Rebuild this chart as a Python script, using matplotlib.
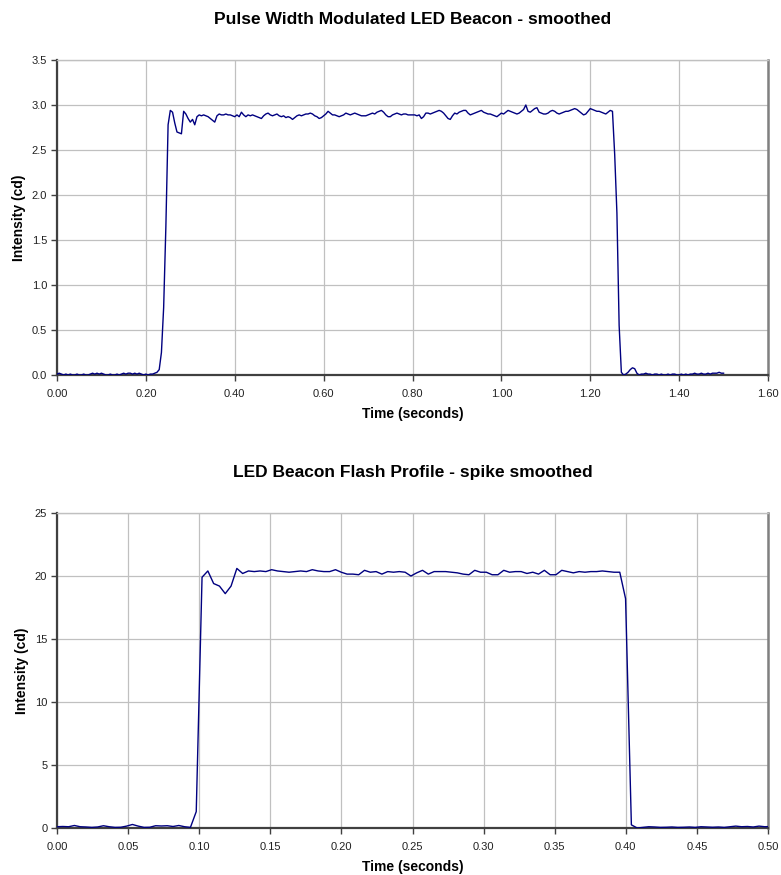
import numpy as np
from matplotlib import pyplot as plt
from matplotlib.ticker import FormatStrFormatter, MultipleLocator

plt.rcParams['font.family'] = ['Liberation Sans', 'DejaVu Sans']

##############################################################################################
##                          PWM beacon, sampled every 5 ms (cd)
##############################################################################################
pwm_dt = 0.005
pwm_cd = [
    0.01, 0.02, 0.01, 0.00, 0.01, 0.00, 0.01, 0.00, 0.00, 0.01,
    0.00, 0.00, 0.01, 0.00, 0.00, 0.01, 0.02, 0.01, 0.02, 0.01,
    0.02, 0.01, 0.00, 0.00, 0.01, 0.00, 0.00, 0.01, 0.00, 0.01,
    0.02, 0.01, 0.02, 0.02, 0.01, 0.02, 0.01, 0.02, 0.01, 0.00,
    0.01, 0.00, 0.01, 0.01, 0.02, 0.03, 0.06, 0.25, 0.75, 1.65,
    2.78, 2.94, 2.92, 2.80, 2.70, 2.69, 2.68, 2.93, 2.90, 2.85,
    2.81, 2.84, 2.78, 2.87, 2.89, 2.88, 2.89, 2.88, 2.87, 2.85,
    2.83, 2.81, 2.88, 2.90, 2.89, 2.89, 2.90, 2.89, 2.89, 2.88,
    2.87, 2.89, 2.87, 2.92, 2.89, 2.87, 2.89, 2.88, 2.89, 2.88,
    2.87, 2.86, 2.85, 2.88, 2.90, 2.91, 2.89, 2.88, 2.89, 2.90,
    2.88, 2.87, 2.88, 2.86, 2.87, 2.86, 2.84, 2.86, 2.88, 2.89,
    2.88, 2.89, 2.90, 2.90, 2.91, 2.90, 2.88, 2.87, 2.85, 2.86,
    2.88, 2.90, 2.93, 2.91, 2.89, 2.89, 2.88, 2.87, 2.88, 2.89,
    2.91, 2.90, 2.89, 2.90, 2.91, 2.90, 2.89, 2.88, 2.88, 2.88,
    2.89, 2.90, 2.91, 2.90, 2.92, 2.93, 2.94, 2.92, 2.89, 2.87,
    2.87, 2.89, 2.90, 2.91, 2.90, 2.89, 2.90, 2.90, 2.89, 2.89,
    2.89, 2.89, 2.88, 2.89, 2.85, 2.87, 2.91, 2.91, 2.90, 2.91,
    2.92, 2.93, 2.94, 2.93, 2.91, 2.88, 2.85, 2.84, 2.88, 2.91,
    2.90, 2.92, 2.93, 2.94, 2.94, 2.91, 2.89, 2.90, 2.91, 2.92,
    2.93, 2.94, 2.92, 2.91, 2.90, 2.90, 2.89, 2.88, 2.87, 2.89,
    2.91, 2.90, 2.92, 2.94, 2.93, 2.92, 2.91, 2.90, 2.91, 2.93,
    2.95, 3.00, 2.93, 2.92, 2.94, 2.96, 2.97, 2.92, 2.91, 2.90,
    2.90, 2.91, 2.93, 2.94, 2.93, 2.91, 2.90, 2.91, 2.92, 2.93,
    2.93, 2.94, 2.95, 2.96, 2.95, 2.93, 2.91, 2.89, 2.90, 2.93,
    2.96, 2.95, 2.94, 2.93, 2.93, 2.92, 2.91, 2.90, 2.92, 2.94,
    2.93, 2.45, 1.80, 0.55, 0.03, 0.00, 0.01, 0.03, 0.06, 0.08,
    0.07, 0.02, 0.00, 0.01, 0.01, 0.02, 0.01, 0.01, 0.00, 0.01,
    0.01, 0.00, 0.01, 0.00, 0.00, 0.01, 0.00, 0.01, 0.01, 0.00,
    0.00, 0.01, 0.00, 0.01, 0.00, 0.01, 0.01, 0.02, 0.01, 0.01,
    0.02, 0.01, 0.01, 0.02, 0.01, 0.02, 0.02, 0.02, 0.03, 0.02,
    0.02,
]

##############################################################################################
##                          flash profile, sampled every 4.08 ms (cd)
##############################################################################################
flash_dt = 0.00408
flash_cd = [
    0.10, 0.12, 0.10, 0.20, 0.10, 0.08, 0.05, 0.08, 0.18, 0.10,
    0.05, 0.06, 0.15, 0.28, 0.15, 0.05, 0.06, 0.18, 0.16, 0.18,
    0.12, 0.20, 0.10, 0.05, 1.30, 19.90, 20.40, 19.40, 19.20, 18.60,
    19.20, 20.60, 20.20, 20.40, 20.35, 20.40, 20.35, 20.50, 20.40, 20.35,
    20.30, 20.35, 20.40, 20.35, 20.50, 20.40, 20.35, 20.35, 20.50, 20.30,
    20.15, 20.15, 20.10, 20.45, 20.30, 20.35, 20.15, 20.35, 20.30, 20.35,
    20.30, 20.00, 20.25, 20.45, 20.15, 20.35, 20.35, 20.35, 20.30, 20.25,
    20.15, 20.10, 20.45, 20.30, 20.30, 20.10, 20.10, 20.45, 20.30, 20.35,
    20.35, 20.20, 20.30, 20.15, 20.45, 20.10, 20.10, 20.45, 20.35, 20.25,
    20.35, 20.30, 20.35, 20.35, 20.40, 20.35, 20.30, 20.30, 18.20, 0.25,
    0.00, 0.05, 0.10, 0.08, 0.05, 0.06, 0.08, 0.05, 0.06, 0.08,
    0.05, 0.10, 0.08, 0.06, 0.08, 0.05, 0.10, 0.15, 0.10, 0.12,
    0.08, 0.15, 0.10, 0.12,
]

pwm_t = np.arange(len(pwm_cd)) * pwm_dt
flash_t = np.arange(len(flash_cd)) * flash_dt


def style_axes(ax, title, xmax, xstep, xfmt, ymax, ystep, yfmt):
    ax.set_xlim(0, xmax)
    ax.set_ylim(0, ymax)
    ax.xaxis.set_major_locator(MultipleLocator(xstep))
    ax.yaxis.set_major_locator(MultipleLocator(ystep))
    ax.xaxis.set_major_formatter(FormatStrFormatter(xfmt))
    ax.yaxis.set_major_formatter(FormatStrFormatter(yfmt))
    ax.grid(True, color='#c0c0c0', linewidth=0.9)
    ax.set_axisbelow(True)
    ax.spines['left'].set_color('#404040')
    ax.spines['bottom'].set_color('#404040')
    ax.spines['left'].set_linewidth(1.6)
    ax.spines['bottom'].set_linewidth(1.6)
    ax.spines['top'].set_color('#c0c0c0')
    ax.spines['top'].set_linewidth(1.0)
    ax.spines['right'].set_color('#808080')
    ax.spines['right'].set_linewidth(1.8)
    ax.tick_params(direction='out', length=4, width=1, color='#404040',
                   labelsize=8, labelcolor='#222222', pad=3)
    ax.tick_params(axis='x', pad=6)
    ax.set_title(title, fontsize=12.5, fontweight='bold', pad=26)
    ax.set_xlabel('Time (seconds)', fontsize=10, fontweight='bold', labelpad=6)
    ax.set_ylabel('Intensity (cd)', fontsize=10, fontweight='bold', labelpad=4)


fig = plt.figure(figsize=(7.81, 8.75), dpi=100)

ax1 = fig.add_axes([57/781, 1 - 375/875, 711/781, 315/875])
ax1.plot(pwm_t, pwm_cd, color='#000080', linewidth=1.0, zorder=3)
style_axes(ax1, 'Pulse Width Modulated LED Beacon - smoothed',
           1.6, 0.2, '%.2f', 3.5, 0.5, '%.1f')

ax2 = fig.add_axes([57/781, 1 - 828/875, 711/781, 315/875])
ax2.plot(flash_t, flash_cd, color='#000080', linewidth=1.0, zorder=3)
style_axes(ax2, 'LED Beacon Flash Profile - spike smoothed',
           0.5, 0.05, '%.2f', 25, 5, '%d')

fig.savefig('out.png', dpi=100, facecolor='white')
